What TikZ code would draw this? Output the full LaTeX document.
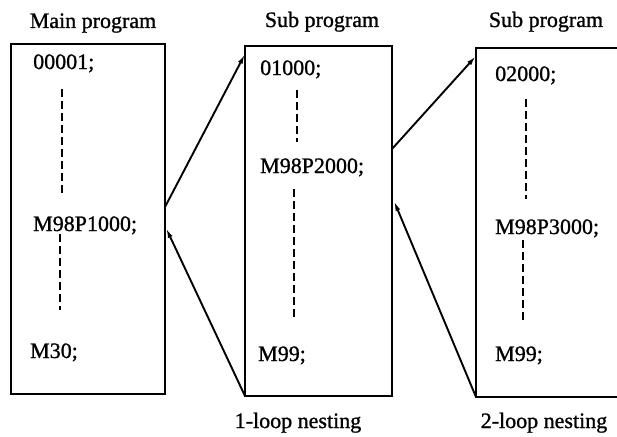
\documentclass[tikz,border=0pt]{standalone}
\usepackage{fontspec}
\setmainfont{Liberation Serif}[BoldFont={Liberation Serif},BoldFeatures={FakeBold=1}]
\usetikzlibrary{arrows.meta,calc}
\begin{document}
\begin{tikzpicture}[x=1pt,y=-1pt,
  progbox/.style={draw,line width=2.6pt,anchor=north west,inner sep=0pt,outer sep=0pt},
  code/.style={anchor=base west,inner sep=0pt,font=\fontsize{22}{26}\selectfont\bfseries},
  heading/.style={anchor=base,inner sep=0pt,font=\fontsize{22}{26}\selectfont\bfseries},
  gap/.style={line width=2pt,dash pattern=on 8pt off 4pt},
  call/.style={line width=1.9pt,-{Latex[length=10pt,width=5pt]}}]
\clip (0,0) rectangle (617,436);
\fill[white] (0,0) rectangle (617,436);

% program boxes
\node[progbox,minimum width=154pt,minimum height=350pt] (main) at (11,44) {};
\node[progbox,minimum width=147pt,minimum height=350pt] (sub1) at (245,46) {};
\node[progbox,minimum width=160pt,minimum height=349pt] (sub2) at (476,48) {};

% headings
\node[heading] (hmain) at (93,28) {Main program};
\node[heading] (hsub1) at (322,27) {Sub program};
\node[heading] (hsub2) at (546,27) {Sub program};

% program lines
\node[code] (m1) at (33,69) {00001;};
\node[code] (m2) at (33,231) {M98P1000;};
\node[code] (m3) at (30,358) {M30;};
\node[code] (s1) at (260,75) {01000;};
\node[code] (s2) at (260,173) {M98P2000;};
\node[code] (s3) at (258,361) {M99;};
\node[code] (t1) at (495,81) {02000;};
\node[code] (t2) at (495,234) {M98P3000;};
\node[code] (t3) at (495,361) {M99;};

% omitted blocks
\draw[gap] (62,89) -- (62,195);
\draw[gap] (60,234) -- (60,310);
\draw[gap] (297,90) -- (297,142);
\draw[gap] (294,189) -- (294,319);
\draw[gap] (526,99) -- (526,199);
\draw[gap] (523,240) -- (523,320);

% nesting labels
\node[heading] (n1) at (298,428) {1-loop nesting};
\node[heading] (n2) at (544,428) {2-loop nesting};

% call and return points
\coordinate (c1) at ($(main.north east)+(0,163)$);
\coordinate (r1) at ($(main.north east)+(1,184)$);
\coordinate (e1) at ($(sub1.north west)+(0,8)$);
\coordinate (c2) at ($(sub1.north east)+(0,103)$);
\coordinate (r2) at ($(sub1.north east)+(2,155)$);
\coordinate (e2) at ($(sub2.north west)+(0,8)$);

\draw[call] (c1) -- (e1);
\draw[call] (sub1.south west) -- (r1);
\draw[call] (c2) -- (e2);
\draw[call] (sub2.south west) -- (r2);
\end{tikzpicture}
\end{document}
